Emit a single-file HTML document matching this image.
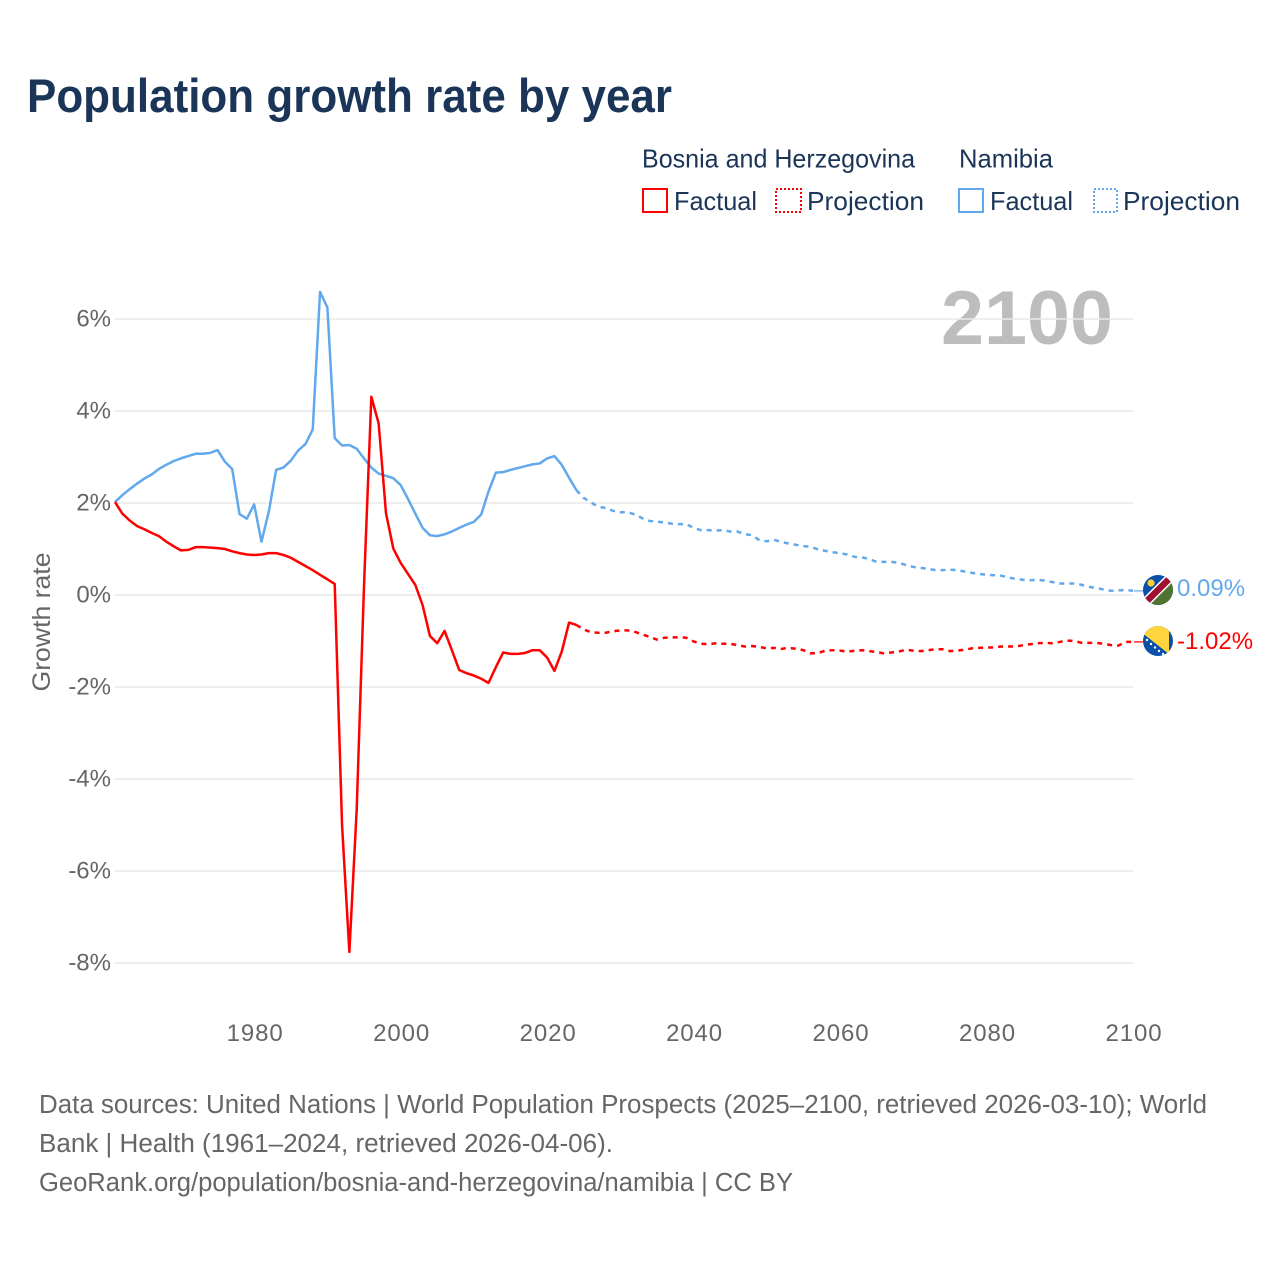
<!DOCTYPE html>
<html lang="en">
<head>
<meta charset="utf-8">
<title>Population growth rate by year</title>
<style>
html,body{margin:0;padding:0;background:#fff;}
svg{display:block;font-family:"Liberation Sans",Arial,sans-serif;}
.navy{fill:#1a3557;}
.gray{fill:#666;}
</style>
</head>
<body>
<svg id="chart" xmlns="http://www.w3.org/2000/svg" width="1280" height="1280" viewBox="0 0 1280 1280">
<defs>
<clipPath id="flag-clip-na"><circle cx="1158" cy="590" r="15"/></clipPath>
<clipPath id="flag-clip-ba"><circle cx="1158" cy="641" r="15"/></clipPath>
</defs>
<rect width="1280" height="1280" fill="#fff"/>
<text class="navy" x="27" y="112" font-size="47" font-weight="700" textLength="645" lengthAdjust="spacingAndGlyphs">Population growth rate by year</text>

<g>
<text class="navy" x="642" y="167.5" font-size="26" textLength="273" lengthAdjust="spacingAndGlyphs">Bosnia and Herzegovina</text>
<text class="navy" x="959" y="167.5" font-size="26" textLength="94" lengthAdjust="spacingAndGlyphs">Namibia</text>
<g>
<rect x="643" y="189" width="24" height="23" fill="none" stroke="#ff0000" stroke-width="2"/>
<text class="navy" x="674" y="210" font-size="26" textLength="83" lengthAdjust="spacingAndGlyphs">Factual</text>
</g>
<g>
<rect x="776" y="189" width="25" height="23" fill="none" stroke="#ff0000" stroke-width="2" stroke-dasharray="2 2"/>
<text class="navy" x="807" y="210" font-size="26" textLength="117" lengthAdjust="spacingAndGlyphs">Projection</text>
</g>
<g>
<rect x="959" y="189" width="24" height="23" fill="none" stroke="#62a8ec" stroke-width="2"/>
<text class="navy" x="990" y="210" font-size="26" textLength="83" lengthAdjust="spacingAndGlyphs">Factual</text>
</g>
<g>
<rect x="1094" y="189" width="23" height="23" fill="none" stroke="#62a8ec" stroke-width="2" stroke-dasharray="2 2"/>
<text class="navy" x="1123" y="210" font-size="26" textLength="117" lengthAdjust="spacingAndGlyphs">Projection</text>
</g>
</g>

<text x="941" y="344" font-size="76" font-weight="700" fill="#bdbdbd" textLength="172" lengthAdjust="spacingAndGlyphs">2100</text>
<g id="grid"></g>
<g id="yticks"></g>
<g id="xticks"></g>
<text class="gray" transform="translate(50,622) rotate(-90)" text-anchor="middle" font-size="25" textLength="139" lengthAdjust="spacingAndGlyphs">Growth rate</text>
<g id="series"></g>

<g clip-path="url(#flag-clip-na)">
<rect x="1143" y="575" width="30" height="30" fill="#0a50a8"/>
<polygon points="1143,605 1173,605 1173,575" fill="#4f7330"/>
<line x1="1143" y1="605" x2="1173" y2="575" stroke="#fff" stroke-width="9.5"/>
<line x1="1143" y1="605" x2="1173" y2="575" stroke="#a0112f" stroke-width="6.5"/>
<circle cx="1151" cy="583" r="3.6" fill="#ffce34"/>
</g>
<g clip-path="url(#flag-clip-ba)">
<rect x="1143" y="626" width="30" height="30" fill="#0a50a8"/>
<polygon points="1141,632 1141,620 1169,620 1169,654" fill="#ffd43c"/>
<circle cx="1147" cy="640" r="1.2" fill="#fff"/>
<circle cx="1151" cy="644" r="1.2" fill="#fff"/>
<circle cx="1155" cy="647.5" r="1.2" fill="#fff"/>
<circle cx="1159" cy="651" r="1.2" fill="#fff"/>
<circle cx="1163" cy="654" r="1.2" fill="#fff"/>
</g>
<g id="endlabels"></g>

<g>
<text class="gray" x="39" y="1113" font-size="25.5" textLength="1168" lengthAdjust="spacingAndGlyphs">Data sources: United Nations | World Population Prospects (2025–2100, retrieved 2026-03-10); World</text>
<text class="gray" x="39" y="1152" font-size="25.5" textLength="574" lengthAdjust="spacingAndGlyphs">Bank | Health (1961–2024, retrieved 2026-04-06).</text>
<text class="gray" x="39" y="1191" font-size="25.5" textLength="754" lengthAdjust="spacingAndGlyphs">GeoRank.org/population/bosnia-and-herzegovina/namibia | CC BY</text>
</g>
</svg>
<script>
const firstYear = 1961;
const lastFactualYear = 2024;
const yTickValues = [6, 4, 2, 0, -2, -4, -6, -8];
const xTickValues = [1980, 2000, 2020, 2040, 2060, 2080, 2100];
const bosniaEndLabel = "-1.02%";
const namibiaEndLabel = "0.09%";
const bosnia = [
2.02,1.77,1.62,1.50,1.43,1.35,1.28,1.16,1.06,0.97,
0.98,1.04,1.04,1.03,1.02,1.00,0.95,0.91,0.88,0.87,
0.88,0.91,0.91,0.87,0.81,0.72,0.63,0.54,0.44,0.34,
0.24,-5.00,-7.76,-4.67,0.20,4.31,3.73,1.78,1.01,0.70,
0.46,0.22,-0.22,-0.89,-1.05,-0.78,-1.20,-1.63,-1.70,-1.75,
-1.82,-1.91,-1.57,-1.25,-1.28,-1.28,-1.26,-1.20,-1.20,-1.36,
-1.65,-1.23,-0.60,-0.65,-0.75,-0.81,-0.82,-0.82,-0.79,-0.77,
-0.77,-0.80,-0.86,-0.91,-0.97,-0.93,-0.92,-0.92,-0.93,-1.01,
-1.06,-1.07,-1.05,-1.06,-1.06,-1.09,-1.12,-1.11,-1.13,-1.16,
-1.15,-1.17,-1.15,-1.17,-1.20,-1.27,-1.26,-1.21,-1.20,-1.21,
-1.23,-1.21,-1.20,-1.22,-1.24,-1.27,-1.25,-1.23,-1.19,-1.21,
-1.22,-1.20,-1.18,-1.18,-1.22,-1.21,-1.19,-1.16,-1.15,-1.14,
-1.14,-1.12,-1.12,-1.12,-1.09,-1.07,-1.05,-1.04,-1.05,-1.02,
-0.99,-1.00,-1.04,-1.04,-1.04,-1.06,-1.09,-1.10,-1.02,-1.02
];
const namibia = [
2.02,2.17,2.30,2.42,2.53,2.62,2.74,2.83,2.91,2.97,
3.02,3.07,3.07,3.09,3.15,2.90,2.74,1.76,1.66,1.97,
1.16,1.81,2.72,2.77,2.92,3.14,3.28,3.60,6.59,6.25,
3.41,3.25,3.26,3.18,2.97,2.77,2.64,2.59,2.54,2.39,
2.09,1.77,1.46,1.30,1.28,1.32,1.38,1.46,1.53,1.59,
1.75,2.25,2.66,2.67,2.72,2.76,2.80,2.84,2.86,2.97,
3.02,2.83,2.55,2.28,2.11,2.01,1.92,1.89,1.83,1.80,
1.80,1.75,1.67,1.61,1.59,1.58,1.55,1.54,1.54,1.46,
1.41,1.41,1.40,1.41,1.38,1.38,1.32,1.30,1.19,1.17,
1.20,1.15,1.12,1.09,1.06,1.05,0.99,0.96,0.93,0.91,
0.88,0.83,0.82,0.78,0.72,0.72,0.72,0.70,0.65,0.61,
0.59,0.57,0.54,0.54,0.55,0.54,0.51,0.48,0.46,0.44,
0.43,0.42,0.38,0.35,0.33,0.32,0.33,0.31,0.28,0.25,
0.25,0.25,0.22,0.18,0.15,0.12,0.09,0.10,0.11,0.09
];

const NS = "http://www.w3.org/2000/svg";
function xScale(year) { return 115 + (year - 1961) * (1133 - 115) / (2100 - 1961); }
function yScale(v) { return 595 - v * 46; }

function mk(tag, attrs, parent, text) {
  const el = document.createElementNS(NS, tag);
  for (const k in attrs) el.setAttribute(k, attrs[k]);
  if (text !== undefined) el.textContent = text;
  parent.appendChild(el);
  return el;
}

const gridG = document.getElementById("grid");
const yG = document.getElementById("yticks");
yTickValues.forEach(function (v) {
  const line = mk("line", {x1: 115, x2: 1133, y1: yScale(v), y2: yScale(v), stroke: "#e9e9e9", "stroke-width": 1.5}, gridG);
  
  
  const label = mk("text", {x: 111, y: yScale(v) + 7.5, "text-anchor": "end", "font-size": 24, fill: "#666"}, yG, v + "%");
  
  
});

const xG = document.getElementById("xticks");
xTickValues.forEach(function (yr) {
  const label = mk("text", {x: xScale(yr) + 1, y: 1041, "text-anchor": "middle", "font-size": 24, "letter-spacing": 0.9, fill: "#666"}, xG, String(yr));
  
  
});

function pathFor(values, from, to) {
  const parts = [];
  for (let i = 0; i < values.length; i++) {
    const yr = firstYear + i;
    if (yr >= from && yr <= to) {
      parts.push((parts.length ? "L" : "M") + xScale(yr).toFixed(2) + " " + yScale(values[i]).toFixed(2));
    }
  }
  return parts.join(" ");
}

const seriesG = document.getElementById("series");
function drawSeries(values, color) {
  const lastYear = firstYear + values.length - 1;
  const solid = mk("path", {d: pathFor(values, firstYear, lastFactualYear), fill: "none", stroke: color, "stroke-width": 2.5, "stroke-linejoin": "round"}, seriesG);
  
  
  const dashed = mk("path", {d: pathFor(values, lastFactualYear, lastYear), fill: "none", stroke: color, "stroke-width": 2.5, "stroke-dasharray": "5 5"}, seriesG);
  
  
  const last = yScale(values[values.length - 1]);
  const connector = mk("line", {x1: xScale(lastYear) + 1, x2: 1143, y1: last, y2: last, stroke: color, "stroke-width": 1.5, opacity: 0.8}, seriesG);
  
  
}
drawSeries(namibia, "#62a8ec");
drawSeries(bosnia, "#ff0000");

const endG = document.getElementById("endlabels");
const naLabel = mk("text", {x: 1177, y: yScale(namibia[namibia.length - 1]) + 5, "font-size": 24, fill: "#62a8ec"}, endG, namibiaEndLabel);


const baLabel = mk("text", {x: 1177, y: yScale(bosnia[bosnia.length - 1]) + 7, "font-size": 24, fill: "#ff0000"}, endG, bosniaEndLabel);


</script>
</body>
</html>
